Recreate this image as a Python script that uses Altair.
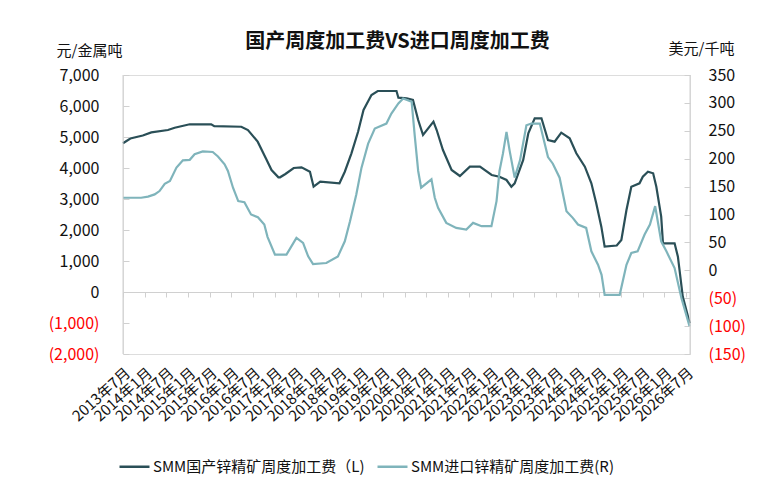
import altair as alt
import pandas as pd

SER_DOM = "SMM国产锌精矿周度加工费（L)"
SER_IMP = "SMM进口锌精矿周度加工费(R)"

dom_dates = [
    "2013-07-01", "2013-09-01", "2013-12-15", "2014-02-25", "2014-07-15", "2014-09-10",
    "2015-01-15", "2015-07-15", "2015-08-10", "2016-03-25", "2016-05-20", "2016-08-10",
    "2016-10-20", "2016-12-05", "2017-02-01", "2017-02-15", "2017-04-01", "2017-06-10",
    "2017-08-15", "2017-10-25", "2017-11-25", "2018-01-20", "2018-07-01", "2018-08-15",
    "2018-10-10", "2018-12-05", "2019-01-20", "2019-03-28", "2019-05-20", "2019-10-25",
    "2019-11-10", "2020-01-20", "2020-03-12", "2020-04-25", "2020-06-05", "2020-09-01",
    "2020-09-28", "2020-11-20", "2021-02-01", "2021-04-12", "2021-07-05", "2021-09-28",
    "2022-01-05", "2022-03-12", "2022-05-10", "2022-06-20", "2022-07-18", "2022-09-28",
    "2022-11-10", "2023-01-03", "2023-03-01", "2023-04-25", "2023-06-20", "2023-08-15",
    "2023-10-25", "2023-12-20", "2024-03-01", "2024-04-25", "2024-06-05", "2024-07-18",
    "2024-08-15", "2024-11-25", "2025-01-03", "2025-02-15", "2025-03-28", "2025-06-05",
    "2025-07-03", "2025-08-15", "2025-09-28", "2025-10-25", "2025-12-05", "2025-12-20",
    "2026-03-28", "2026-04-25", "2026-06-05", "2026-08-03",
]
dom_values = [
    4800, 4950, 5050, 5150, 5225, 5300,
    5410, 5410, 5350, 5330, 5225, 4850,
    4300, 3935, 3700, 3700, 3806, 4000,
    4022, 3880, 3396, 3558, 3506, 3880,
    4474, 5171, 5871, 6355, 6484, 6484,
    6268, 6248, 6194, 5548, 5064, 5494,
    5226, 4580, 3935, 3742, 4042, 4042,
    3774, 3720, 3613, 3396, 3506, 4258,
    5119, 5603, 5603, 4903, 4850, 5140,
    4958, 4474, 4042, 3506, 2861, 2108,
    1463, 1500, 1677, 2645, 3396, 3506,
    3721, 3880, 3829, 3396, 2430, 1571,
    1571, 1140, -150, -1010,
]

imp_dates = [
    "2013-07-01", "2013-12-01", "2014-01-28", "2014-03-25", "2014-05-05", "2014-06-18",
    "2014-08-01", "2014-09-25", "2014-10-20", "2014-11-18", "2015-01-15", "2015-02-25",
    "2015-05-05", "2015-07-28", "2015-09-10", "2015-11-05", "2015-12-03", "2016-01-15",
    "2016-02-28", "2016-04-20", "2016-06-15", "2016-08-12", "2016-10-05", "2016-11-01",
    "2017-01-03", "2017-04-10", "2017-07-03", "2017-08-28", "2017-10-10", "2017-11-20",
    "2018-03-12", "2018-06-18", "2018-08-15", "2018-09-28", "2018-11-20", "2019-01-03",
    "2019-02-28", "2019-04-25", "2019-08-01", "2019-09-12", "2019-11-10", "2019-12-20",
    "2020-03-01", "2020-03-28", "2020-04-25", "2020-05-20", "2020-08-15", "2020-09-12",
    "2020-10-10", "2020-12-18", "2021-03-12", "2021-06-05", "2021-08-01", "2021-10-12",
    "2022-01-03", "2022-02-15", "2022-03-12", "2022-04-10", "2022-05-10", "2022-06-05",
    "2022-07-18", "2022-09-01", "2022-10-25", "2022-12-05", "2023-02-15", "2023-04-25",
    "2023-06-05", "2023-08-01", "2023-09-28", "2023-11-20", "2024-01-03", "2024-03-12",
    "2024-04-25", "2024-06-20", "2024-07-20", "2024-08-15", "2024-12-20", "2025-02-15",
    "2025-03-28", "2025-05-20", "2025-07-18", "2025-09-01", "2025-10-15", "2025-12-05",
    "2026-01-18", "2026-03-28", "2026-05-25", "2026-08-01",
]
imp_values = [
    130, 130, 132, 136, 142, 155,
    160, 184, 190, 197, 198, 208,
    213, 212, 204, 190, 178, 148,
    124, 122, 100, 95, 82, 60,
    28, 28, 58, 49, 25, 11,
    13, 25, 52, 88, 136, 184,
    227, 254, 263, 281, 299, 308,
    302, 239, 178, 148, 163, 130,
    112, 85, 76, 73, 85, 79,
    79, 124, 178, 209, 248, 215,
    166, 197, 260, 263, 263, 203,
    191, 166, 106, 94, 82, 76,
    34, 10, -8, -44, -44, 10,
    31, 34, 64, 82, 115, 52,
    34, 4, -50, -100,
]

tick_months = [(y, m) for y in range(2013, 2027) for m in (1, 7)][1:]

X_START = (2013, 7, 1)
X_END = (2026, 8, 5)
LEFT_DOMAIN = [-2000, 7000]
RIGHT_DOMAIN = [-150, 350]
W, H = 567, 279
FONT = "Noto Sans CJK SC"
DARK = "#2a4f57"
LIGHT = "#7fb4bb"
AXIS_GREY = "#d0d0d0"
TICK_IN = 6

df_dom = pd.DataFrame({"date": dom_dates, "value": dom_values, "series": SER_DOM})
df_imp = pd.DataFrame({"date": imp_dates, "value": imp_values, "series": SER_IMP})
df_edges = pd.DataFrame({"date": ["%04d-%02d-%02d" % X_START, "%04d-%02d-%02d" % X_END]})

zero_offset = -H * (0 - LEFT_DOMAIN[0]) / (LEFT_DOMAIN[1] - LEFT_DOMAIN[0])

x_scale = alt.Scale(
    type="utc",
    domain=[alt.DateTime(year=X_START[0], month=X_START[1], date=X_START[2], utc=True),
            alt.DateTime(year=X_END[0], month=X_END[1], date=X_END[2], utc=True)],
)

x_enc = alt.X(
    "date:T",
    scale=x_scale,
    axis=alt.Axis(
        values=[alt.DateTime(year=y, month=m, date=1, utc=True) for y, m in tick_months],
        labelExpr="utcFormat(datum.value, '%Y年%-m月')",
        labelAngle=-42,
        labelFontSize=15,
        labelFont=FONT,
        labelColor="#111111",
        labelOverlap=False,
        labelFlush=False,
        labelBound=False,
        offset=zero_offset,
        labelPadding=68,
        domainColor=AXIS_GREY,
        tickColor=AXIS_GREY,
        tickSize=5,
        grid=False,
        title=None,
    ),
)

color_enc = alt.Color(
    "series:N",
    scale=alt.Scale(domain=[SER_DOM, SER_IMP], range=[DARK, LIGHT]),
    legend=alt.Legend(
        orient="none",
        legendX=-5,
        legendY=375,
        direction="horizontal",
        title=None,
        symbolType="stroke",
        symbolSize=900,
        symbolStrokeWidth=2.5,
        labelFontSize=15,
        labelFont=FONT,
        labelColor="#111111",
        labelLimit=400,
        labelOffset=2,
        columnPadding=7,
    ),
)

left = alt.Chart(df_dom).mark_line(strokeWidth=2.2).encode(
    x=x_enc,
    y=alt.Y(
        "value:Q",
        scale=alt.Scale(domain=LEFT_DOMAIN, nice=False, zero=False),
        axis=alt.Axis(
            values=list(range(-2000, 7001, 1000)),
            labelExpr="datum.value < 0 ? '(' + format(-datum.value, ',') + ')' : format(datum.value, ',')",
            labelColor=alt.condition("datum.value < 0", alt.value("#ff0000"), alt.value("#111111")),
            labelFontSize=16,
            labelFont=FONT,
            labelPadding=24,
            offset=-TICK_IN,
            ticks=True,
            tickSize=TICK_IN,
            tickColor=AXIS_GREY,
            domain=False,
            grid=False,
            title="元/金属吨",
            titleAngle=0,
            titleX=-34 - TICK_IN,
            titleY=-25,
            titleAlign="center",
            titleBaseline="middle",
            titleFontSize=15,
            titleFontWeight="normal",
            titleFont=FONT,
            titleColor="#111111",
        ),
    ),
    color=color_enc,
)

right = alt.Chart(df_imp).mark_line(strokeWidth=2.2).encode(
    x=x_enc,
    y=alt.Y(
        "value:Q",
        scale=alt.Scale(domain=RIGHT_DOMAIN, nice=False, zero=False),
        axis=alt.Axis(
            orient="right",
            values=list(range(-150, 351, 50)),
            labelExpr="datum.value < 0 ? '(' + (-datum.value) + ')' : '' + datum.value",
            labelColor=alt.condition("datum.value < 0", alt.value("#ff0000"), alt.value("#111111")),
            labelFontSize=16,
            labelFont=FONT,
            labelPadding=18,
            offset=-TICK_IN,
            ticks=True,
            tickSize=TICK_IN,
            tickColor=AXIS_GREY,
            domain=False,
            grid=False,
            title="美元/千吨",
            titleAngle=0,
            titleX=11 + TICK_IN,
            titleY=-27,
            titleAlign="center",
            titleBaseline="middle",
            titleFontSize=15,
            titleFontWeight="normal",
            titleFont=FONT,
            titleColor="#111111",
        ),
    ),
    color=color_enc,
)

edges = alt.Chart(df_edges).mark_rule(color=AXIS_GREY, strokeWidth=1).encode(x=x_enc)

chart = (
    alt.layer(left, right, edges)
    .resolve_scale(y="independent")
    .properties(
        width=W,
        height=H,
        autosize=alt.AutoSizeParams(type="none"),
        padding={"left": 115, "top": 67, "right": 74, "bottom": 139},
        title=alt.TitleParams(
            "国产周度加工费VS进口周度加工费",
            fontSize=20,
            fontWeight="bold",
            font=FONT,
            color="#111111",
            anchor="middle",
            dx=-9,
            dy=35,
            offset=24,
        ),
    )
    .configure_view(stroke=None)
    .configure(background="white")
)

chart.save("out.html", embed_options={"renderer": "svg", "actions": False})
